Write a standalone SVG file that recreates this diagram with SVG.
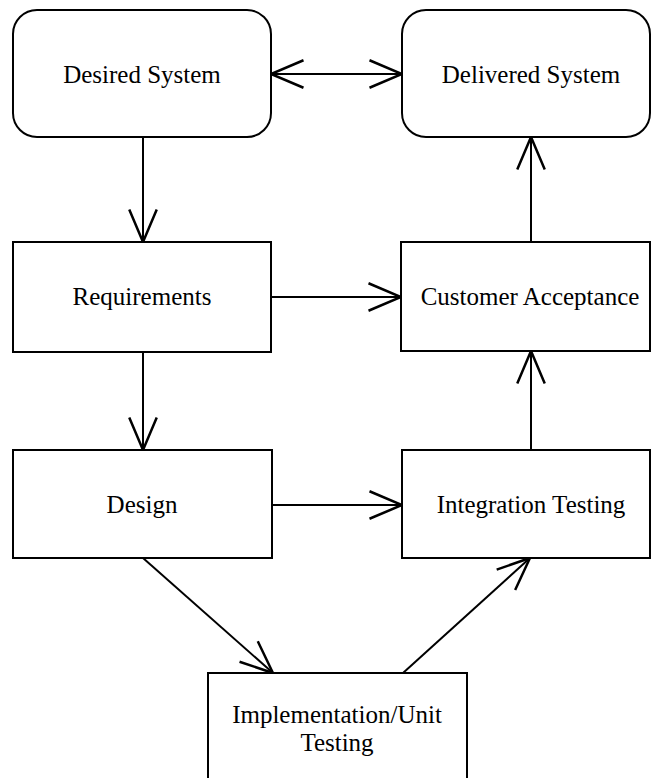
<svg xmlns="http://www.w3.org/2000/svg" width="652" height="778" viewBox="0 0 652 778">
<style>
.box{fill:#fff;stroke:#000;stroke-width:2}
.lbl{font-family:"Liberation Serif","Times New Roman",serif;font-size:25px;fill:#000;text-anchor:middle}
.con{fill:none;stroke:#000;stroke-width:2}
</style>
<defs>
<marker id="arr" markerUnits="userSpaceOnUse" markerWidth="40" markerHeight="40" viewBox="-30 -15 32 30" refX="0" refY="0" orient="auto-start-reverse">
<path d="M-26,-11 L0,0 L-26,11" fill="none" stroke="#000" stroke-width="2"/>
</marker>
</defs>
<rect width="652" height="778" fill="#fff"/>
<g id="connectors">
<line class="con" x1="271" y1="74" x2="402" y2="74" marker-start="url(#arr)" marker-end="url(#arr)"/>
<line class="con" x1="143" y1="137" x2="143" y2="242" marker-end="url(#arr)"/>
<line class="con" x1="271" y1="297" x2="401" y2="297" marker-end="url(#arr)"/>
<line class="con" x1="143" y1="352" x2="143" y2="450" marker-end="url(#arr)"/>
<line class="con" x1="272" y1="505" x2="402" y2="505" marker-end="url(#arr)"/>
<line class="con" x1="143" y1="558" x2="273" y2="673" marker-end="url(#arr)"/>
<line class="con" x1="403" y1="673" x2="530" y2="558" marker-end="url(#arr)"/>
<line class="con" x1="531" y1="450" x2="531" y2="351" marker-end="url(#arr)"/>
<line class="con" x1="531" y1="242" x2="531" y2="137" marker-end="url(#arr)"/>
</g>
<g id="desired">
<rect class="box" x="13" y="10" width="258" height="127" rx="24"/>
<text class="lbl" x="142" y="83">Desired System</text>
</g>
<g id="delivered">
<rect class="box" x="402" y="10" width="248" height="127" rx="24"/>
<text class="lbl" x="531" y="83">Delivered System</text>
</g>
<g id="requirements">
<rect class="box" x="13" y="242" width="258" height="110"/>
<text class="lbl" x="142" y="305">Requirements</text>
</g>
<g id="acceptance">
<rect class="box" x="401" y="242" width="249" height="109"/>
<text class="lbl" x="530" y="305">Customer Acceptance</text>
</g>
<g id="design">
<rect class="box" x="13" y="450" width="259" height="108"/>
<text class="lbl" x="142" y="513">Design</text>
</g>
<g id="integration">
<rect class="box" x="402" y="450" width="248" height="108"/>
<text class="lbl" x="531" y="513">Integration Testing</text>
</g>
<g id="implementation">
<rect class="box" x="208" y="673" width="259" height="120"/>
<text class="lbl" x="337" y="723">Implementation/Unit</text>
<text class="lbl" x="337" y="751">Testing</text>
</g>
</svg>
